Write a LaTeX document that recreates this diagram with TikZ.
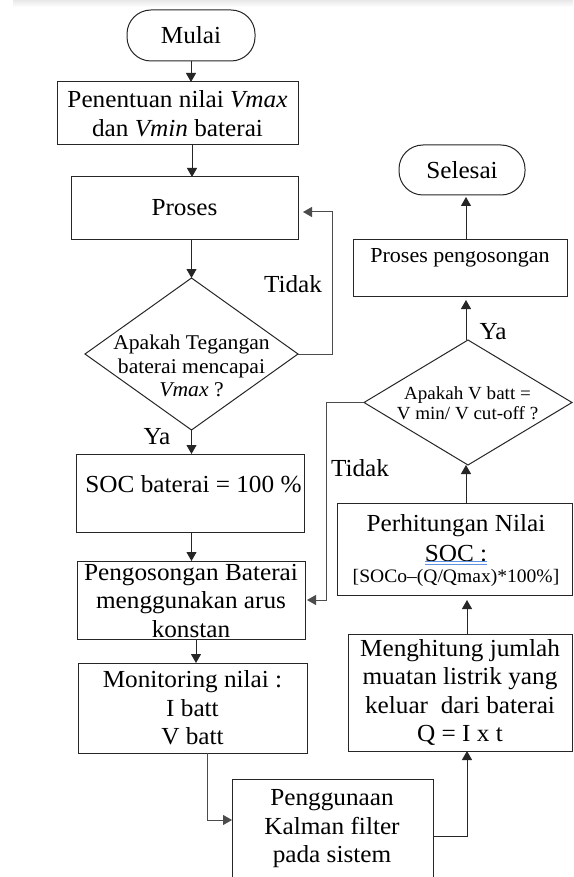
\documentclass[tikz,border=0pt]{standalone}
\usepackage{fontspec}
\setmainfont{Liberation Serif}[FakeStretch=1.03]
\usetikzlibrary{shapes.geometric,arrows.meta,calc}
\definecolor{spell}{RGB}{95,145,225}
\begin{document}
\begin{tikzpicture}[x=1pt,y=-1pt,
 every node/.style={inner sep=0pt, outer sep=0pt},
 fbig/.style={font=\fontsize{24.5}{28.5}\selectfont},
 fmid/.style={font=\fontsize{21}{23.5}\selectfont},
 fsmall/.style={font=\fontsize{18.5}{20}\selectfont},
 box/.style={draw=black!85, rectangle, line width=1pt},
 term/.style={draw=black!85, rectangle, rounded corners=24pt, line width=1pt},
 dec/.style={draw=black!85, diamond, line width=1pt},
 arr/.style={draw=black!85, line width=1pt, -{Triangle[length=9pt,width=10pt]}},
 conn/.style={draw=black!70, line width=1pt, -{Triangle[length=9pt,width=10pt]}}]
\clip (0,0) rectangle (573,877);
\fill[white] (0,0) rectangle (573,877);
\shade[top color=black!9,bottom color=white] (13,0) rectangle (573,7);

% left column
\node[term, minimum width=128pt, minimum height=51pt, fbig] (mulai) at (191,35.5) {Mulai};
\node[box, minimum width=241pt, minimum height=63pt, fbig, align=center] (tentu) at (177.5,113.5) {Penentuan nilai \textit{Vmax}\\dan \textit{Vmin} baterai};
\node[box, minimum width=227pt, minimum height=62pt, fbig] (proses) at (184.5,208) {Proses};
\node[dec, minimum width=213pt, minimum height=152pt] (d1) at (191.5,354) {};
\node[fmid, align=center] (d1t) at (191.5,366) {Apakah Tegangan\\baterai mencapai\\\textit{Vmax} ?};
\node[box, minimum width=228pt, minimum height=78pt] (soc) at (190,493) {};
\node[fbig] (soct) at (193.5,484) {SOC baterai = 100 \%};
\node[box, minimum width=228pt, minimum height=78pt] (peng) at (191,600) {};
\node[fbig, align=center] (pengt) at (191,601) {Pengosongan Baterai\\menggunakan arus\\konstan};
\node[box, minimum width=229pt, minimum height=90pt, fbig, align=center] (mon) at (192.5,708) {Monitoring nilai :\\I batt\\V batt};
\node[box, minimum width=201pt, minimum height=121pt] (kal) at (332.5,839.5) {};
\node[fbig, align=center] (kalt) at (332,829) {Penggunaan\\Kalman filter\\pada sistem};

% right column
\node[box, minimum width=224pt, minimum height=117pt, fbig, align=center] (meng) at (460,692.5) {Menghitung jumlah\\muatan listrik yang\\keluar\ \ dari baterai\\Q = I x t};
\node[box, minimum width=235pt, minimum height=92pt] (perh) at (454.5,549) {};
\node[fbig] (perh1) at (456,526) {Perhitungan Nilai};
\node[fbig] (perh2) at (456,554) {SOC :};
\node[font=\fontsize{19}{21}\selectfont] (perh3) at (456,578) {[SOCo–(Q/Qmax)*100\%]};
\draw[spell, line width=0.8pt] (perh2.south west) ++(0,-0.5) -- ++(62,0);
\draw[spell, line width=0.8pt] (perh2.south west) ++(0,2) -- ++(62,0);
\node[dec, minimum width=208pt, minimum height=125pt] (d2) at (468,402.5) {};
\node[fsmall, align=center] (d2t) at (467.5,403) {Apakah V batt =\\V min/ V cut-off ?};
\node[box, minimum width=214pt, minimum height=57pt] (pp) at (460,267.5) {};
\node[font=\fontsize{21.4}{24}\selectfont] (ppt) at (460,258) {Proses pengosongan};
\node[term, minimum width=126pt, minimum height=50pt, fbig] (sel) at (462,170) {Selesai};

% labels
\node[fbig] (tidak1) at (293,284) {Tidak};
\node[fbig] (ya1) at (157,437) {Ya};
\node[fbig] (tidak2) at (360,468) {Tidak};
\node[fbig] (ya2) at (493,332) {Ya};

% connectors
\draw[arr] (mulai.south) -- (mulai.south |- tentu.north);
\draw[arr] ([xshift=1pt]mulai.south |- tentu.south) -- ([xshift=1pt]mulai.south |- proses.north);
\draw[arr] (d1.north |- proses.south) -- (d1.north);
\draw[conn] (d1.east) -- ++(34,0) |- ($(proses.east)+(5,4)$);
\draw[arr] (d1.south) -- (d1.south |- soc.north);
\draw[arr] (d1.south |- soc.south) -- (d1.south |- peng.north);
\draw[arr] ([xshift=5pt]peng.south) -- ([xshift=5pt]peng.south |- mon.north);
\draw[conn] ([xshift=14.5pt]mon.south) |- ($(kal.west)+(0,-19.5)$);
\draw[arr] ($(kal.east)+(0,-3.5)$) -| ([xshift=7pt]meng.south);
\draw[arr, shorten >=5pt] ([xshift=7pt]meng.north) -- ([xshift=7pt]meng.north |- perh.south);
\draw[arr] ([xshift=-2pt]d2.south |- perh.north) -- ([xshift=-2pt]d2.south);
\draw[conn, shorten >=2pt] (d2.west) -- ++(-38,0) |- (peng.east);
\draw[arr, shorten >=4pt] ([xshift=-2pt]d2.north) -- ([xshift=-2pt]d2.north |- pp.south);
\draw[arr, shorten >=2pt] ([xshift=-2pt]d2.north |- pp.north) -- ([xshift=-2pt]d2.north |- sel.south);
\end{tikzpicture}
\end{document}
